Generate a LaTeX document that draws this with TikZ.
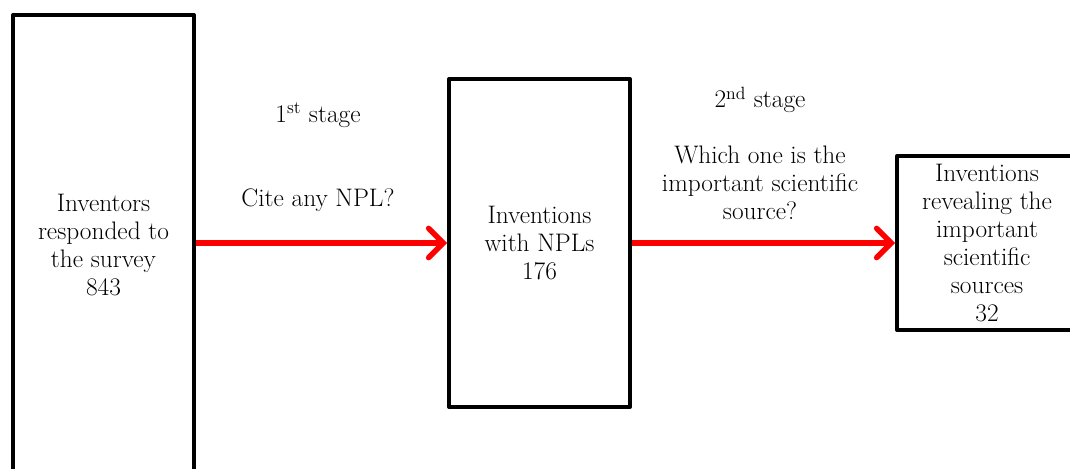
\documentclass[tikz,border=0pt]{standalone}
\usetikzlibrary{arrows.meta}
\begin{document}
\begin{tikzpicture}[x=0.75pt, y=-0.75pt, line join=round,
  font=\fontsize{19}{21}\selectfont,
  box/.style={draw, line width=3pt, align=center, inner sep=0pt},
  label/.style={align=center, inner sep=0pt},
  redarrow/.style={draw=red, line width=4pt, -{Straight Barb[length=11pt, width=22pt, line cap=round]}}]
  \useasboundingbox (0,0) rectangle (1070,468);
  \clip (0,0) rectangle (1070,468);
  % boxes
  \node[box, minimum width=181*0.75pt, minimum height=460*0.75pt] (resp) at (103.5,245)
    {Inventors\\responded to\\the survey\\843};
  \node[box, minimum width=181*0.75pt, minimum height=328*0.75pt] (npl) at (539.5,243)
    {Inventions\\with NPLs\\176};
  \node[box, minimum width=180*0.75pt, minimum height=174*0.75pt] (src) at (987,243)
    {Inventions\\revealing the\\important\\scientific\\sources\\32};
  % stage labels
  \node[label] (st1) at (318,115) {1\textsuperscript{st} stage};
  \node[label] (q1) at (318,200) {Cite any NPL?};
  \node[label] (st2) at (760,100) {2\textsuperscript{nd} stage};
  \node[label] (q2) at (760,183) {Which one is the\\important scientific\\source?};
  % arrows
  \draw[redarrow] (resp.east |- 0,243) -- (npl.west |- 0,243);
  \draw[redarrow] (npl.east |- 0,243) -- (src.west |- 0,243);
\end{tikzpicture}
\end{document}
